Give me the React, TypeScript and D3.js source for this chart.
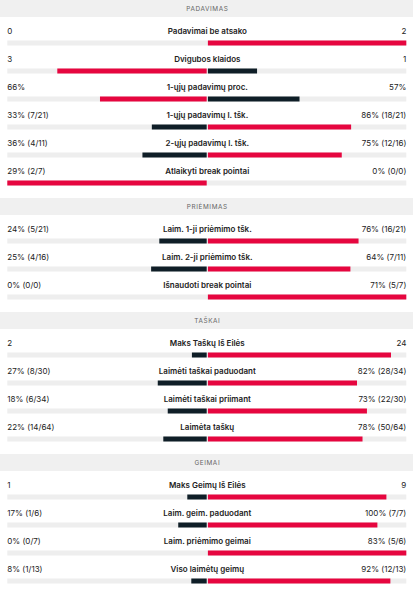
import * as d3 from "d3";

// stat sections, values
const sections = ["PADAVIMAS", "PRIĖMIMAS", "TAŠKAI", "GEIMAI"];

const statLabels = [
  ["Padavimai be atsako", "Dvigubos klaidos", "1-ųjų padavimų proc.", "1-ųjų padavimų l. tšk.", "2-ųjų padavimų l. tšk.", "Atlaikyti break pointai"],
  ["Laim. 1-ji priėmimo tšk.", "Laim. 2-ji priėmimo tšk.", "Išnaudoti break pointai"],
  ["Maks Taškų Iš Eilės", "Laimėti taškai paduodant", "Laimėti taškai priimant", "Laimėta taškų"],
  ["Maks Geimų Iš Eilės", "Laim. geim. paduodant", "Laim. priėmimo geimai", "Viso laimėtų geimų"],
];

const homeValues = [
  [0, 3, 66, 33, 36, 29],
  [24, 25, 0],
  [2, 27, 18, 22],
  [1, 17, 0, 8],
];
const awayValues = [
  [2, 1, 57, 86, 75, 0],
  [76, 64, 71],
  [24, 82, 73, 78],
  [9, 100, 83, 92],
];

const homeText = [
  ["0", "3", "66%", "33% (7/21)", "36% (4/11)", "29% (2/7)"],
  ["24% (5/21)", "25% (4/16)", "0% (0/0)"],
  ["2", "27% (8/30)", "18% (6/34)", "22% (14/64)"],
  ["1", "17% (1/6)", "0% (0/7)", "8% (1/13)"],
];
const awayText = [
  ["2", "1", "57%", "86% (18/21)", "75% (12/16)", "0% (0/0)"],
  ["76% (16/21)", "64% (7/11)", "71% (5/7)"],
  ["24", "82% (28/34)", "73% (22/30)", "78% (50/64)"],
  ["9", "100% (7/7)", "83% (5/6)", "92% (12/13)"],
];

const W = 413;
const H = 590;
const left = 7.3;
const right = 406.3;
const mid = 207.3;
const headerH = 17;
const rowH = 28;
const sectionGap = 13;

const RED = "#e6063f";
const DARK = "#0f1e27";
const TRACK = "#eeeeee";

const font = "Inter, 'Noto Sans', sans-serif";

export default function App() {
  // share of each side: value / (home + away), mapped onto half track
  const leftScale = d3.scaleLinear().domain([0, 1]).range([mid, left]);
  const rightScale = d3.scaleLinear().domain([0, 1]).range([mid, right]);

  let y = 0;
  const blocks = sections.map((name, s) => {
    const y0 = y;
    y += headerH + rowH * statLabels[s].length + sectionGap;
    return (
      <g key={name} transform={`translate(0, ${y0})`}>
        <rect x={0} y={0} width={W} height={headerH} fill="#f0f0f0" />
        <text
          x={mid}
          y={headerH / 2 + 2.3}
          textAnchor="middle"
          fontSize={6.4}
          letterSpacing={0.6}
          fill="#666"
          fontFamily={font}
        >
          {name}
        </text>
        {statLabels[s].map((label, i) => {
          const a = homeValues[s][i];
          const b = awayValues[s][i];
          const tot = a + b;
          const fa = tot ? a / tot : 0;
          const fb = tot ? b / tot : 0;
          const ry = headerH + rowH * i;
          return (
            <g key={label} transform={`translate(0, ${ry})`}>
              <text x={left} y={17} fontSize={8} fill="#222" fontFamily={font}>
                {homeText[s][i]}
              </text>
              <text x={mid} y={17} fontSize={8} fontWeight={600} fill="#222" textAnchor="middle" fontFamily={font}>
                {label}
              </text>
              <text x={right} y={17} fontSize={8} fill="#222" textAnchor="end" fontFamily={font}>
                {awayText[s][i]}
              </text>
              <rect x={left} y={23.5} width={right - left} height={5} fill={TRACK} />
              {fa > 0 && (
                <rect
                  x={leftScale(fa)}
                  y={23.5}
                  width={mid - 0.6 - leftScale(fa)}
                  height={5}
                  fill={a >= b ? RED : DARK}
                />
              )}
              {fb > 0 && (
                <rect
                  x={mid + 0.6}
                  y={23.5}
                  width={rightScale(fb) - mid - 0.6}
                  height={5}
                  fill={b >= a ? RED : DARK}
                />
              )}
            </g>
          );
        })}
      </g>
    );
  });

  return (
    <svg
      width={W}
      height={H}
      viewBox={`0 0 ${W} ${H}`}
      style={{ position: "absolute", top: 0, left: 0, background: "#fff" }}
    >
      {blocks}
    </svg>
  );
}
